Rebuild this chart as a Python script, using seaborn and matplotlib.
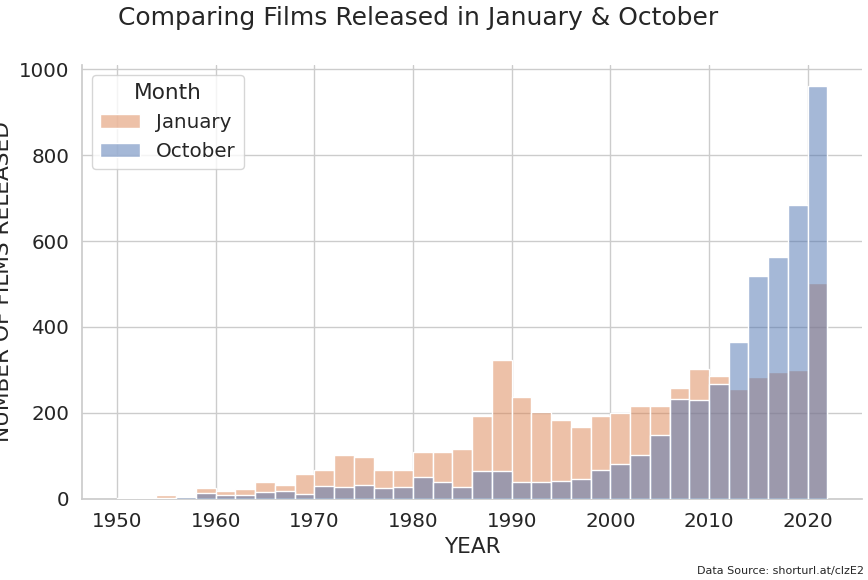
import numpy as np
import pandas as pd
import matplotlib
matplotlib.use("Agg")
import matplotlib.pyplot as plt
import matplotlib.colors as mcolors
import seaborn as sns

sns.set_theme(style="whitegrid", font_scale=1.3)

# bin start years (2-year bins, 1950-2022)
years = list(range(1950, 2022, 2))
january = [1, 3, 8, 5, 25, 18, 22, 38, 32, 57, 67, 102, 98, 67, 67, 110, 110, 115,
           193, 322, 238, 202, 183, 168, 193, 200, 215, 215, 258, 303, 285, 255, 283,
           295, 300, 502]
october = [1, 2, 3, 4, 14, 10, 8, 15, 17, 12, 30, 28, 32, 24, 28, 50, 40, 27,
           65, 65, 40, 40, 42, 45, 68, 80, 102, 148, 232, 230, 268, 365, 518,
           562, 685, 962]

df = pd.DataFrame({
    "Year": [y + 1 for y in years] * 2,
    "Count": january + october,
    "Month": ["January"] * len(years) + ["October"] * len(years),
})

fig, ax = plt.subplots(figsize=(8.68, 5.8), dpi=100)
sns.histplot(data=df, x="Year", weights="Count", hue="Month",
             bins=list(range(1950, 2024, 2)),
             palette={"January": "#dd8452", "October": "#4c72b0"},
             hue_order=["January", "October"], ax=ax, edgecolor="white")

# put October bars on top so the overlap looks purple-grey
blue = mcolors.to_rgb("#4c72b0")
for p in ax.patches:
    if np.allclose(p.get_facecolor()[:3], blue, atol=0.02):
        p.set_zorder(3)

sns.despine()
ax.set_xlabel("YEAR")
ax.set_ylabel("NUMBER OF FILMS RELEASED")
ax.set_ylim(0, 1010)
ax.set_xlim(1946.5, 2025.5)
fig.suptitle("Comparing Films Released in January & October", x=0.136, y=0.99,
             ha="left", fontsize=18)
fig.text(0.995, 0.01, "Data Source: shorturl.at/clzE2", ha="right", fontsize=8)
plt.subplots_adjust(left=0.095, right=0.993, top=0.888, bottom=0.14)
plt.savefig("out.png")
